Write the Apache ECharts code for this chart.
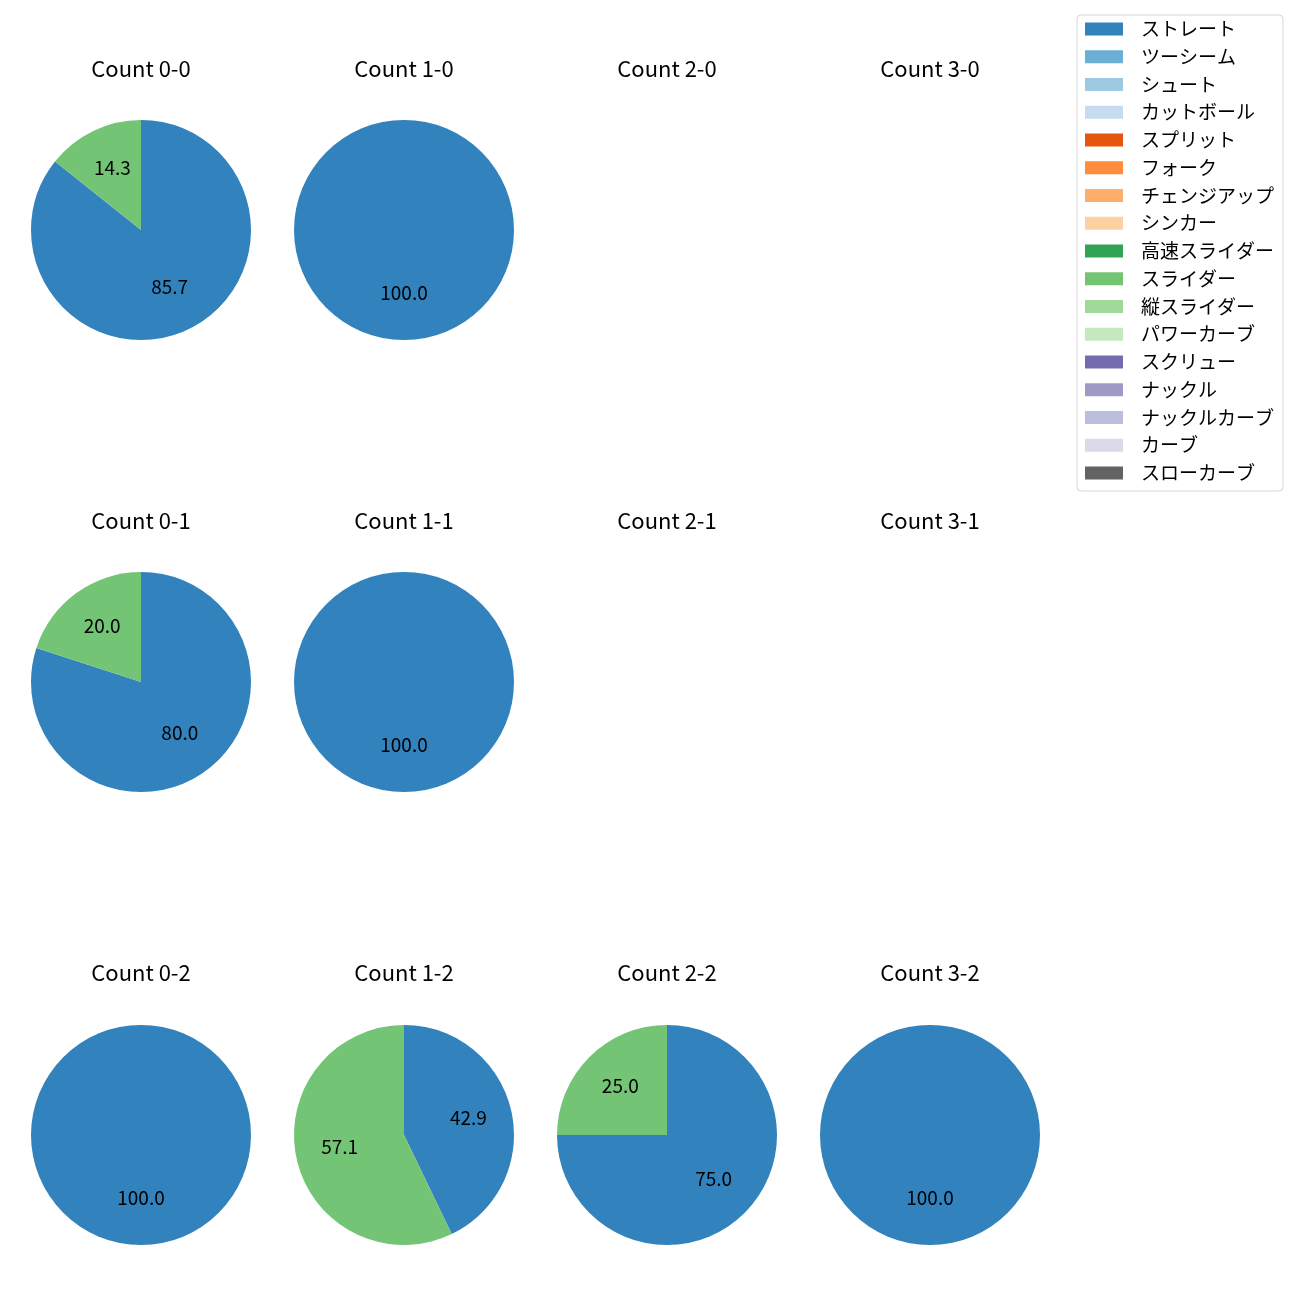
<!DOCTYPE html>
<html><head><meta charset="utf-8">
<script src="https://cdn.jsdelivr.net/npm/echarts@6/dist/echarts.min.js"></script>
<style>html,body{margin:0;padding:0;background:#fff}#c{width:1300px;height:1300px}</style>
</head><body><div id="c"></div>
<script>
// ---- data ----
const categories = ['ストレート','ツーシーム','シュート','カットボール','スプリット','フォーク','チェンジアップ','シンカー','高速スライダー','スライダー','縦スライダー','パワーカーブ','スクリュー','ナックル','ナックルカーブ','カーブ','スローカーブ'];
const colors = ['#3182bd','#6baed6','#9ecae1','#c6dbef','#e6550d','#fd8d3c','#fdae6b','#fdd0a2','#31a354','#74c476','#a1d99b','#c7e9c0','#756bb1','#9e9ac8','#bcbddc','#dadaeb','#636363'];
const panelTitles = ['Count 0-0','Count 1-0','Count 2-0','Count 3-0','Count 0-1','Count 1-1','Count 2-1','Count 3-1','Count 0-2','Count 1-2','Count 2-2','Count 3-2'];
const straightCounts = [6, 3, 0, 0, 4, 5, 0, 0, 2, 3, 3, 2];
const sliderCounts   = [1, 0, 0, 0, 1, 0, 0, 0, 0, 4, 1, 0];

// ---- layout ----
const colX = [141, 404, 667, 930];
const rowY = [230, 682, 1135];
const titleY = [69, 521, 973];
const R = 110;
const FONT = '"Noto Sans CJK JP", "Noto Sans", sans-serif';

const titles = [];
const series = [];
panelTitles.forEach((t, i) => {
  const col = i % 4, row = Math.floor(i / 4);
  titles.push({
    text: t, left: colX[col], top: titleY[row] - 14, textAlign: 'center', padding: 0,
    textStyle: { fontFamily: FONT, fontSize: 22, fontWeight: 'normal', color: '#000', lineHeight: 27 }
  });
  const total = straightCounts[i] + sliderCounts[i];
  if (total === 0) return;
  const data = categories.map((c, k) => ({
    name: c,
    value: c === 'ストレート' ? straightCounts[i] : (c === 'スライダー' ? sliderCounts[i] : 0)
  }));
  series.push({
    type: 'pie', center: [colX[col], rowY[row]], radius: [0, R],
    startAngle: 90, clockwise: true, silent: true, animation: false,
    stillShowZeroSum: false, avoidLabelOverlap: false,
    itemStyle: { borderWidth: 0 },
    label: { show: false }, labelLine: { show: false },
    emphasis: { disabled: true },
    data: data
  });
  series.push({
    type: 'pie', center: [colX[col], rowY[row]], radius: [16, R],
    startAngle: 90, clockwise: true, silent: true, animation: false,
    stillShowZeroSum: false, avoidLabelOverlap: false,
    itemStyle: { color: 'rgba(0,0,0,0)', borderWidth: 0 },
    label: {
      show: true, position: 'inside', fontFamily: FONT, fontSize: 19, color: '#000',
      offset: [0, -3],
      formatter: p => p.value > 0 ? (p.value / total * 100).toFixed(1) : ''
    },
    labelLine: { show: false },
    emphasis: { disabled: true },
    data: data.map(d => ({ name: d.name + ' ', value: d.value }))
  });
});

const chart = echarts.init(document.getElementById('c'), null, { renderer: 'canvas' });
chart.setOption({
  backgroundColor: '#fff',
  animation: false,
  color: colors,
  title: titles,
  legend: {
    data: categories, orient: 'vertical', left: 1077, top: 15,
    icon: 'rect', itemWidth: 38, itemHeight: 13, itemGap: 7.75,
    padding: [4, 9, 8, 8],
    backgroundColor: '#fff', borderColor: '#d6d6d6', borderWidth: 1, borderRadius: 4,
    selectedMode: false,
    textStyle: { fontFamily: FONT, fontSize: 19, color: '#000', lineHeight: 20, padding: [0, 0, 0, 13] }
  },
  series: series
});
</script>
</body></html>
